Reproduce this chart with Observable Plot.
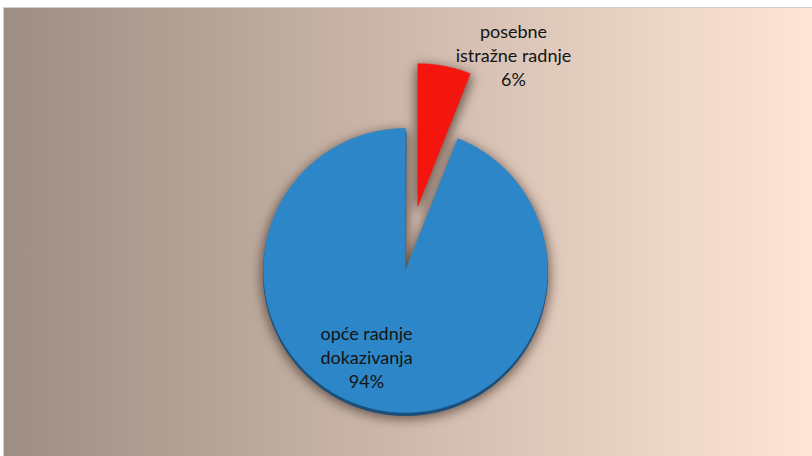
<!DOCTYPE html>
<html>
<head>
<meta charset="utf-8">
<script src="https://cdn.jsdelivr.net/npm/d3@7"></script>
<script src="https://cdn.jsdelivr.net/npm/@observablehq/plot@0.6"></script>
<style>
  html, body { margin: 0; padding: 0; background: #fff; }
  #chart svg { display: block; }
</style>
</head>
<body>
<div id="chart"></div>
<script>
// ---- data ----
const categories = ["posebne istražne radnje", "opće radnje dokazivanja"];
const shares = [6, 94];
const labelTexts = ["posebne\nistražne radnje\n6%", "opće radnje\ndokazivanja\n94%"];
const sliceColors = ["#f5150f", "#2d86c7"];

// ---- layout (pixels) ----
const R = 142;
const explodeBy = [66, 0];
const labelOffset = [[108, 216], [-39, -86]];

// build slice polygons
const total = d3.sum(shares);
let acc = 0;
const pts = [];
categories.forEach((cat, i) => {
  const a0 = acc / total * 2 * Math.PI;
  acc += shares[i];
  const a1 = acc / total * 2 * Math.PI;
  const mid = (a0 + a1) / 2;
  const ox = explodeBy[i] * Math.sin(mid), oy = explodeBy[i] * Math.cos(mid);
  pts.push({x: ox, y: oy, cat});
  const n = Math.max(4, Math.ceil((a1 - a0) / (Math.PI / 180)));
  for (let k = 0; k <= n; k++) {
    const a = a0 + (a1 - a0) * k / n;
    pts.push({x: ox + R * Math.sin(a), y: oy + R * Math.cos(a), cat});
  }
});
const labelData = categories.map((cat, i) => ({
  cat, text: labelTexts[i], x: labelOffset[i][0], y: labelOffset[i][1]
}));

const svg = Plot.plot({
  width: 812,
  height: 456,
  margin: 0,
  x: {domain: [-405, 407], axis: null},
  y: {domain: [-186, 270], axis: null},
  color: {domain: categories, range: sliceColors},
  style: {
    background: "linear-gradient(to right, #9e8d83, #fee6d6) 4px 8px / 808px 448px no-repeat, linear-gradient(#cfcfcf, #cfcfcf) 3px 7px / 809px 449px no-repeat, #ffffff",
    fontFamily: "Lato, sans-serif"
  },
  marks: [
    // shadow copy (blurred below)
    Plot.line(pts, {x: "x", y: "y", z: "cat", fill: "#2e1a10", fillOpacity: 0.6, stroke: "#2e1a10", strokeOpacity: 0.6, strokeWidth: 4, curve: "linear-closed", dy: 4}),
    // darker rim under the big slice
    Plot.line(pts.filter(d => d.cat === categories[1]), {x: "x", y: "y", z: "cat", fill: "#1a4f7c", stroke: "#1a4f7c", strokeWidth: 1, curve: "linear-closed", dy: 3}),
    // slices
    Plot.line(pts, {x: "x", y: "y", z: "cat", fill: "cat", stroke: "cat", strokeWidth: 0.5, curve: "linear-closed"}),
    Plot.text(labelData, {x: "x", y: "y", text: "text", fontSize: 18, fontFamily: "Lato, sans-serif", lineHeight: 1.33, fill: "#141414"})
  ]
});

const lineGroups = svg.querySelectorAll('g[aria-label="line"]');
if (lineGroups.length) lineGroups[0].style.filter = "blur(6px)";

document.getElementById("chart").appendChild(svg);
</script>
</body>
</html>
